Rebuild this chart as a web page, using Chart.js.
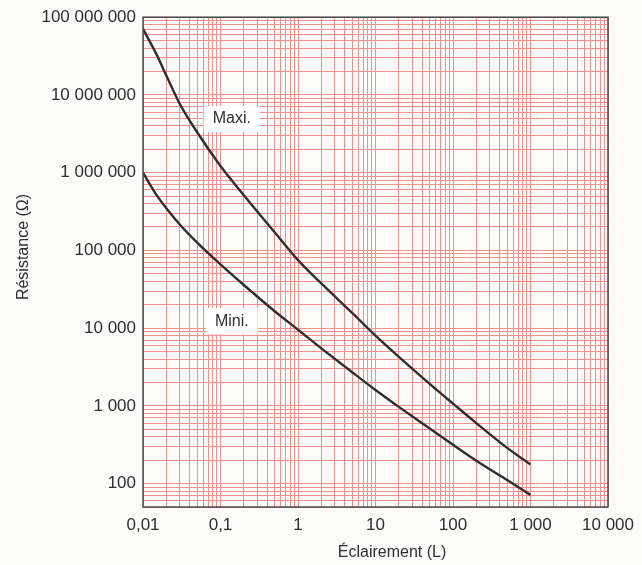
<!DOCTYPE html>
<html>
<head>
<meta charset="utf-8">
<script src="https://cdn.jsdelivr.net/npm/chart.js@4"></script>
<style>
html,body{margin:0;padding:0;background:#fbfbfa;}
#wrap{width:642px;height:565px;}
</style>
</head>
<body>
<div id="wrap"><canvas id="c" width="642" height="565"></canvas></div>
<script>
// Data
const lux   = [0.01, 0.015, 0.02, 0.03, 0.05, 0.1, 0.2, 0.5, 1, 2, 5, 10, 20, 50, 100, 200, 500, 1000];
const maxi  = [7.08e7, 3.3e7, 1.78e7, 7.6e6, 3.31e6, 1.22e6, 5.13e5, 1.71e5, 7.5e4, 3.76e4, 1.57e4, 8.0e3, 4.27e3, 1.92e3, 1.07e3, 600, 288, 176];
const mini  = [1.0e6, 5.13e5, 3.48e5, 2.14e5, 1.26e5, 6.61e4, 3.59e4, 1.65e4, 9.55e3, 5.5e3, 2.71e3, 1.6e3, 970, 511, 316, 197, 111, 71.6];

const xTickValues = [0.01, 0.1, 1, 10, 100, 1000, 10000];
const xTickLabels = ['0,01', '0,1', '1', '10', '100', '1 000', '10 000'];
const yTickValues = [100, 1000, 10000, 100000, 1000000, 10000000, 100000000];
const yTickLabels = ['100', '1 000', '10 000', '100 000', '1 000 000', '10 000 000', '100 000 000'];

const seriesLabels = ['Maxi.', 'Mini.'];
const labelPos = [{x: 0.14, y: 4.9e6}, {x: 0.14, y: 1.23e4}];

const xTitle = 'Éclairement (L)';
const yTitle = 'Résistance (Ω)';

function gridValues(min, max) {
  const out = [];
  for (let e = -3; e <= 9; e++) {
    for (let m = 1; m <= 9; m++) {
      const v = parseFloat((m * Math.pow(10, e)).toPrecision(6));
      if (v >= min - 1e-12 && v <= max * (1 + 1e-9)) out.push(v);
    }
  }
  return out;
}
function labelFor(values, labels, v) {
  for (let i = 0; i < values.length; i++) {
    if (Math.abs(values[i] - v) / values[i] < 1e-6) return labels[i];
  }
  return '';
}

const FONT = "'Liberation Sans', Arial, sans-serif";
const TXT = '#2e2e2e';
const GRID = '#f29090';

const decor = {
  id: 'decor',
  beforeDatasetsDraw(chart) {
    const ctx = chart.ctx, xs = chart.scales.x, ys = chart.scales.y;
    ctx.save();
    ctx.font = '16px ' + FONT;
    ctx.textAlign = 'center';
    ctx.textBaseline = 'middle';
    seriesLabels.forEach((t, i) => {
      const px = xs.getPixelForValue(labelPos[i].x);
      const py = ys.getPixelForValue(labelPos[i].y);
      const w = ctx.measureText(t).width + 18;
      ctx.fillStyle = '#ffffff';
      ctx.fillRect(px - w / 2, py - 13, w, 26);
      ctx.fillStyle = TXT;
      ctx.fillText(t, px, py);
    });
    ctx.restore();
  },
  afterDraw(chart) {
    const ctx = chart.ctx, a = chart.chartArea;
    ctx.save();
    ctx.strokeStyle = '#4a4a4a';
    ctx.lineWidth = 1.5;
    ctx.strokeRect(a.left, a.top, a.right - a.left, a.bottom - a.top);
    ctx.fillStyle = TXT;
    ctx.font = '16px ' + FONT;
    ctx.textAlign = 'center';
    ctx.textBaseline = 'middle';
    ctx.fillText(xTitle, 392, 553);
    ctx.translate(24, 247);
    ctx.rotate(-Math.PI / 2);
    ctx.fillText(yTitle, 0, 0);
    ctx.restore();
  }
};

new Chart(document.getElementById('c'), {
  type: 'line',
  data: {
    datasets: [
      { label: seriesLabels[0], data: lux.map((x, i) => ({x, y: maxi[i]})) },
      { label: seriesLabels[1], data: lux.map((x, i) => ({x, y: mini[i]})) }
    ]
  },
  options: {
    responsive: false,
    animation: false,
    devicePixelRatio: 1,
    layout: { padding: { left: 0, right: 30, top: 16, bottom: 0 } },
    elements: {
      line: { borderColor: '#2f2f2f', borderWidth: 2.4, cubicInterpolationMode: 'monotone', fill: false },
      point: { radius: 0, hoverRadius: 0 }
    },
    plugins: { legend: { display: false }, tooltip: { enabled: false }, title: { display: false } },
    scales: {
      x: {
        type: 'logarithmic',
        min: 0.01, max: 10000,
        afterBuildTicks(s) { s.ticks = gridValues(0.01, 10000).map(v => ({value: v})); },
        afterFit(s) { s.height = 58; },
        grid: { color: GRID, lineWidth: 1, drawTicks: false },
        border: { display: false },
        ticks: {
          autoSkip: false, maxRotation: 0, padding: 8,
          color: TXT, font: { family: FONT, size: 17 },
          callback(v) { return labelFor(xTickValues, xTickLabels, v); }
        }
      },
      y: {
        type: 'logarithmic',
        min: 50, max: 100000000,
        afterBuildTicks(s) { s.ticks = gridValues(50, 100000000).map(v => ({value: v})); },
        afterFit(s) { s.width = 143; },
        grid: { color: GRID, lineWidth: 1, drawTicks: false },
        border: { display: false },
        ticks: {
          autoSkip: false, padding: 7,
          color: TXT, font: { family: FONT, size: 17 },
          callback(v) { return labelFor(yTickValues, yTickLabels, v); }
        }
      }
    }
  },
  plugins: [decor]
});
</script>
</body>
</html>
